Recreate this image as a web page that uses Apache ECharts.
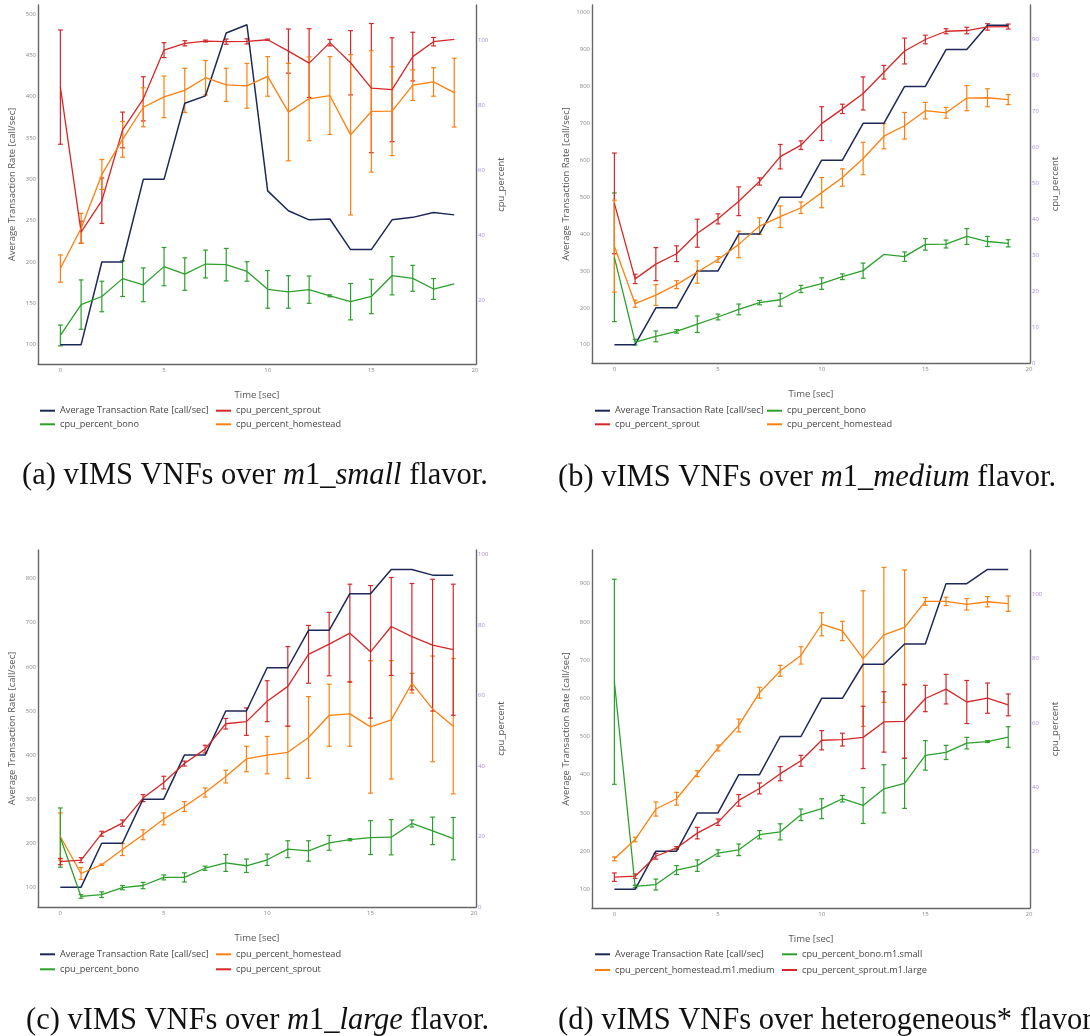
<!DOCTYPE html>
<html lang="en">
<head>
    <meta charset="UTF-8">
    <title>vIMS VNFs cpu / transaction rate</title>
    <style>
        html, body { margin: 0; padding: 0; background: #fff; }
        #container { width: 1090px; height: 1036px; }
    </style>
</head>
<body>
<div id="container"></div>
<script type="text/javascript" src="https://cdn.jsdelivr.net/npm/echarts@6/dist/echarts.min.js"></script>
<script type="text/javascript">
    var t = [0, 1, 2, 3, 4, 5, 6, 7, 8, 9, 10, 11, 12, 13, 14, 15, 16, 17, 18, 19];

    // (a) m1_small
    var smallRate = [100, 100, 200, 200, 300, 300, 392, 401, 477, 487, 286, 262, 251, 252, 215, 215, 251, 254, 260, 257];
    var smallSprout = [85.6, 40.9, 50.6, 72.4, 82.0, 97.0, 99.1, 99.8, 99.6, 99.7, 100.2, 96.7, 93.0, 99.3, 93.1, 85.3, 84.8, 95.0, 99.6, 100.3];
    var smallSproutErr = [17.6, 3.4, 7.0, 5.5, 6.8, 2.3, 0.8, 0.3, 0.8, 0.8, 0.2, 6.8, 10.6, 1.0, 9.9, 19.9, 16.0, 7.5, 1.3, 0];
    var smallBono = [9.1, 18.6, 21.1, 26.6, 24.7, 30.3, 28.0, 31.1, 30.9, 28.8, 23.3, 22.5, 23.2, 21.3, 19.5, 21.1, 27.5, 26.7, 23.4, 25.0];
    var smallBonoErr = [3.2, 7.6, 4.7, 5.5, 5.2, 5.9, 5.0, 4.3, 5.0, 3.0, 5.8, 5.0, 4.2, 0.3, 5.6, 5.3, 5.9, 4.0, 3.2, 0];
    var smallHome = [29.7, 42.1, 58.7, 69.5, 79.4, 82.6, 84.6, 88.5, 86.3, 86.0, 88.9, 77.9, 82.0, 83.0, 70.9, 78.1, 78.2, 86.2, 87.2, 83.9];
    var smallHomeErr = [4.2, 4.6, 4.6, 5.5, 6.0, 6.4, 6.8, 5.3, 5.1, 6.9, 6.1, 15.0, 12.9, 12.0, 24.7, 18.7, 13.7, 4.7, 4.4, 10.6];

    // (b) m1_medium
    var mediumRate = [100, 100, 200, 200, 300, 300, 400, 400, 500, 500, 600, 600, 700, 700, 800, 800, 900, 900, 966, 966];
    var mediumBono = [29.4, 5.8, 7.4, 8.8, 10.8, 12.8, 14.9, 16.8, 17.6, 20.6, 22.1, 24.0, 25.7, 30.2, 29.6, 33.0, 33.1, 35.2, 33.8, 33.3];
    var mediumBonoErr = [17.9, 0.8, 1.5, 0.5, 2.3, 0.8, 1.5, 0.6, 1.8, 1.0, 1.6, 0.8, 2.1, 0, 1.3, 1.6, 1.1, 2.2, 1.4, 1.0];
    var mediumSprout = [44.4, 23.4, 27.5, 30.4, 36.1, 40.1, 45.0, 50.5, 57.4, 60.6, 66.6, 70.7, 75.0, 80.9, 86.8, 90.0, 92.3, 92.5, 93.5, 93.6];
    var mediumSproutErr = [14.0, 1.3, 4.6, 2.2, 3.9, 1.4, 4.0, 1.0, 3.4, 1.2, 4.7, 1.3, 4.6, 1.9, 3.6, 1.2, 0.7, 0.9, 0.9, 0.7];
    var mediumHome = [32.5, 16.5, 18.9, 21.8, 25.3, 28.8, 33.0, 38.1, 40.7, 43.2, 47.4, 51.6, 56.9, 63.1, 66.0, 70.2, 69.6, 73.7, 73.8, 73.3];
    var mediumHomeErr = [12.8, 1.0, 2.9, 1.1, 3.1, 0.8, 3.7, 2.3, 3.0, 1.6, 4.2, 2.4, 4.5, 3.5, 3.7, 2.3, 1.5, 3.5, 2.5, 1.4];

    // (c) m1_large
    var largeRate = [100, 100, 200, 200, 300, 300, 400, 400, 500, 500, 598, 598, 683, 683, 766, 766, 821, 821, 808, 808];
    var largeHome = [20.0, 9.5, 12.0, 16.3, 20.5, 25.0, 28.5, 32.5, 37.0, 42.0, 43.1, 43.9, 48.1, 54.4, 54.8, 51.1, 53.1, 63.5, 56.2, 51.3];
    var largeHomeErr = [6.7, 1.7, 0.2, 1.7, 1.4, 1.7, 1.4, 1.3, 1.8, 3.6, 5.3, 7.4, 11.6, 8.8, 9.2, 18.8, 16.8, 2.8, 15.0, 19.2];
    var largeBono = [19.7, 3.0, 3.5, 5.5, 6.1, 8.4, 8.4, 11.0, 12.5, 11.7, 13.4, 16.4, 15.9, 18.2, 19.1, 19.7, 19.8, 23.7, 21.6, 19.4];
    var largeBonoErr = [8.4, 0.5, 0.8, 0.6, 0.9, 0.7, 1.3, 0.6, 2.4, 1.9, 1.6, 2.4, 2.9, 2.1, 0.3, 4.8, 5.0, 1.0, 3.9, 6.0];
    var largeSprout = [12.9, 13.3, 20.8, 23.8, 30.9, 35.3, 40.7, 44.8, 52.0, 52.6, 58.4, 62.6, 71.7, 74.6, 77.7, 72.4, 79.6, 76.7, 74.3, 73.0];
    var largeSproutErr = [0.9, 0.7, 0.7, 0.9, 1.0, 1.8, 0.7, 1.1, 1.5, 3.9, 5.8, 11.3, 8.2, 9.0, 13.9, 18.8, 13.9, 15.1, 18.7, 18.6];

    // (d) heterogeneous
    var mixRate = [100, 100, 200, 200, 300, 300, 400, 400, 500, 500, 600, 600, 689, 689, 742, 742, 900, 900, 937, 937];
    var mixBono = [72.8, 9.1, 9.7, 14.2, 15.6, 19.5, 20.5, 25.2, 26.1, 31.4, 33.3, 36.4, 34.3, 39.5, 41.2, 49.9, 50.8, 53.7, 54.2, 55.6];
    var mixBonoErr = [31.9, 0.4, 1.7, 1.4, 1.8, 1.0, 1.8, 1.3, 2.5, 1.8, 3.1, 1.0, 5.6, 7.5, 7.8, 4.6, 2.2, 1.8, 0.3, 3.2];
    var mixHome = [17.7, 23.7, 33.2, 36.4, 44.2, 52.2, 59.2, 69.4, 76.2, 81.0, 90.7, 88.6, 80.0, 87.4, 89.7, 97.8, 97.8, 96.9, 97.7, 97.1];
    var mixHomeErr = [0.6, 0.7, 2.2, 2.0, 0.9, 0.9, 2.0, 1.7, 1.7, 2.7, 3.6, 3.0, 21.1, 21.0, 17.9, 1.2, 1.3, 1.8, 1.6, 2.4];
    var mixSprout = [12.0, 12.3, 18.5, 21.1, 25.7, 29.1, 35.9, 39.6, 44.2, 48.2, 54.6, 54.8, 55.5, 60.3, 60.5, 67.6, 70.5, 66.5, 67.7, 65.6];
    var mixSproutErr = [1.3, 0.7, 0.9, 0.4, 1.8, 1.0, 1.8, 1.7, 2.2, 1.7, 3.0, 2.0, 9.7, 9.4, 11.5, 4.1, 4.6, 6.7, 4.7, 3.4];

    var NAVY = '#1c2858', RED = '#d62728', GREEN = '#2ca02c', ORANGE = '#ff7f0e';
    var RATE = 'Average Transaction Rate [call/sec]';
    var SANS = '"Open Sans", Roboto, sans-serif';
    var SERIF = '"Liberation Serif", serif';

    var panels = [
        {
            caption: '(a) vIMS VNFs over {i|m}1_{i|small} flavor.', capLeft: 22, capTop: 458,
            grid: {left: 38, top: 5, width: 438, height: 359},
            xRange: [-1.08, 20.05], yL: [76.6, 510.9, 8, 50], yR: [0.3, 110.9, 5, 20],
            rate: smallRate,
            cpu: [
                {name: 'cpu_percent_sprout', color: RED, mean: smallSprout, err: smallSproutErr},
                {name: 'cpu_percent_bono', color: GREEN, mean: smallBono, err: smallBonoErr},
                {name: 'cpu_percent_homestead', color: ORANGE, mean: smallHome, err: smallHomeErr}
            ],
            legX: [40, 216], legY: [410.7, 424.3]
        },
        {
            caption: '(b) vIMS VNFs over {i|m}1_{i|medium} flavor.', capLeft: 558, capTop: 460,
            grid: {left: 592, top: 5, width: 438, height: 358},
            xRange: [-1.08, 20.05], yL: [50.4, 1020.8, 10, 100], yR: [0, 99.6, 10, 10],
            rate: mediumRate,
            cpu: [
                {name: 'cpu_percent_bono', color: GREEN, mean: mediumBono, err: mediumBonoErr},
                {name: 'cpu_percent_sprout', color: RED, mean: mediumSprout, err: mediumSproutErr},
                {name: 'cpu_percent_homestead', color: ORANGE, mean: mediumHome, err: mediumHomeErr}
            ],
            legX: [595, 767], legY: [410.7, 424.3]
        },
        {
            caption: '(c) vIMS VNFs over {i|m}1_{i|large} flavor.', capLeft: 26, capTop: 1003,
            grid: {left: 38, top: 550, width: 438, height: 357},
            xRange: [-1.08, 20.1], yL: [55.5, 865, 8, 100], yR: [0, 101.3, 5, 20],
            rate: largeRate,
            cpu: [
                {name: 'cpu_percent_homestead', color: ORANGE, mean: largeHome, err: largeHomeErr},
                {name: 'cpu_percent_bono', color: GREEN, mean: largeBono, err: largeBonoErr},
                {name: 'cpu_percent_sprout', color: RED, mean: largeSprout, err: largeSproutErr}
            ],
            legX: [40, 216], legY: [954.3, 969.3]
        },
        {
            caption: '(d) vIMS VNFs over heterogeneous* flavors.', capLeft: 558, capTop: 1003,
            grid: {left: 592, top: 550, width: 438, height: 358},
            xRange: [-1.08, 20.05], yL: [51.2, 988, 9, 100], yR: [2.4, 113.8, 5, 20],
            rate: mixRate,
            cpu: [
                {name: 'cpu_percent_bono.m1.small', color: GREEN, mean: mixBono, err: mixBonoErr},
                {name: 'cpu_percent_homestead.m1.medium', color: ORANGE, mean: mixHome, err: mixHomeErr},
                {name: 'cpu_percent_sprout.m1.large', color: RED, mean: mixSprout, err: mixSproutErr}
            ],
            legX: [595, 782], legY: [954.3, 970]
        }
    ];

    // only label ticks that fall on the step
    function stepLabel(step) {
        return function (v) {
            var k = v / step;
            return Math.abs(k - Math.round(k)) < 1e-6 ? String(Math.round(k) * step) : '';
        };
    }

    function renderErr(params, api) {
        var x = api.value(0), lo = api.value(1), hi = api.value(2);
        if (hi - lo <= 0) return null;
        var p1 = api.coord([x, lo]), p2 = api.coord([x, hi]);
        var w = 2.4;
        var st = {stroke: api.visual('color'), lineWidth: 1.2};
        return {
            type: 'group',
            children: [
                {type: 'line', shape: {x1: p1[0], y1: p1[1], x2: p2[0], y2: p2[1]}, style: st},
                {type: 'line', shape: {x1: p1[0] - w, y1: p1[1], x2: p1[0] + w, y2: p1[1]}, style: st},
                {type: 'line', shape: {x1: p2[0] - w, y1: p2[1], x2: p2[0] + w, y2: p2[1]}, style: st}
            ]
        };
    }

    var axisLine = {show: true, onZero: false, lineStyle: {color: '#666', width: 1.4}};
    var grids = [], xAxes = [], yAxes = [], series = [], legends = [], titles = [];

    panels.forEach(function (p, pi) {
        grids.push(p.grid);
        xAxes.push({
            type: 'value', gridIndex: pi, min: p.xRange[0], max: p.xRange[1], splitNumber: 4,
            axisLine: axisLine, axisTick: {show: false}, splitLine: {show: false},
            axisLabel: {fontSize: 6, color: '#888', margin: 3, fontFamily: SANS, formatter: stepLabel(5)},
            name: 'Time [sec]', nameLocation: 'middle', nameGap: 26,
            nameTextStyle: {fontSize: 9.5, color: '#555', fontFamily: SANS}
        });
        yAxes.push({
            type: 'value', gridIndex: pi, position: 'left', min: p.yL[0], max: p.yL[1], splitNumber: p.yL[2],
            axisLine: axisLine, axisTick: {show: false}, splitLine: {show: false},
            axisLabel: {fontSize: 6, color: '#888', margin: 2, fontFamily: SANS, formatter: stepLabel(p.yL[3])},
            name: RATE, nameLocation: 'middle', nameGap: 21,
            nameTextStyle: {fontSize: 9.5, color: '#555', fontFamily: SANS}
        });
        yAxes.push({
            type: 'value', gridIndex: pi, position: 'right', min: p.yR[0], max: p.yR[1], splitNumber: p.yR[2],
            axisLine: axisLine, axisTick: {show: false}, splitLine: {show: false},
            axisLabel: {fontSize: 6, color: '#a88ad6', margin: 2, fontFamily: SANS, formatter: stepLabel(p.yR[3])},
            name: 'cpu_percent', nameLocation: 'middle', nameGap: 20,
            nameTextStyle: {fontSize: 9.5, color: '#555', fontFamily: SANS}
        });

        series.push({
            type: 'line', name: RATE, xAxisIndex: pi, yAxisIndex: pi * 2,
            data: t.map(function (x, i) { return [x, p.rate[i]]; }),
            symbol: 'none', color: NAVY, lineStyle: {width: 1.5, color: NAVY}
        });
        p.cpu.forEach(function (s) {
            series.push({
                type: 'line', name: s.name, xAxisIndex: pi, yAxisIndex: pi * 2 + 1,
                data: t.map(function (x, i) { return [x, s.mean[i]]; }),
                symbol: 'none', color: s.color, lineStyle: {width: 1.3, color: s.color}
            });
            series.push({
                type: 'custom', name: s.name, xAxisIndex: pi, yAxisIndex: pi * 2 + 1,
                data: t.map(function (x, i) { return [x, s.mean[i] - s.err[i], s.mean[i] + s.err[i]]; }),
                encode: {x: 0, y: [1, 2]}, color: s.color, renderItem: renderErr, clip: false
            });
        });

        // plotly legend: items filled row by row in two columns
        var names = [RATE].concat(p.cpu.map(function (s) { return s.name; }));
        names.forEach(function (n, i) {
            legends.push({
                data: [n], left: p.legX[i % 2], top: p.legY[Math.floor(i / 2)] - 6,
                padding: 0, icon: 'rect', itemWidth: 15, itemHeight: 2, itemGap: 0,
                textStyle: {fontSize: 9.2, color: '#444', fontFamily: SANS, lineHeight: 12}
            });
        });

        titles.push({
            text: p.caption, left: p.capLeft, top: p.capTop, padding: 0,
            textStyle: {
                fontFamily: SERIF, fontSize: 30.5, fontWeight: 'normal', color: '#111', lineHeight: 36,
                rich: {
                    i: {fontFamily: SERIF, fontSize: 30.5, fontStyle: 'italic', color: '#111', lineHeight: 36}
                }
            }
        });
    });

    var option = {
        backgroundColor: '#fff',
        animation: false,
        title: titles,
        legend: legends,
        grid: grids,
        xAxis: xAxes,
        yAxis: yAxes,
        series: series
    };

    var myChart = echarts.init(document.getElementById('container'));
    myChart.setOption(option);
</script>
</body>
</html>
